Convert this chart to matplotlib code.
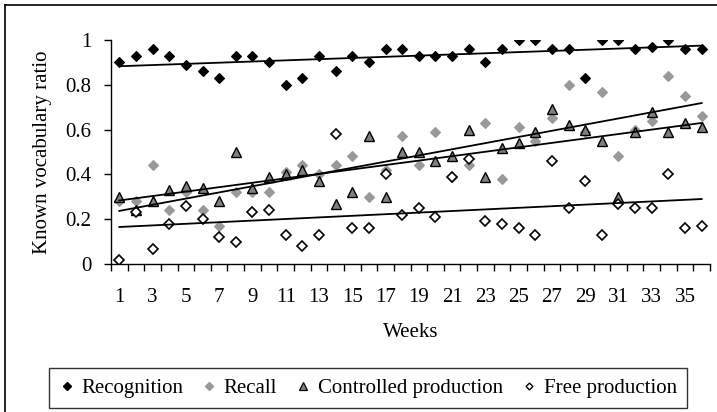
import numpy as np
import matplotlib
matplotlib.use("Agg")
import matplotlib.pyplot as plt
from matplotlib.lines import Line2D

plt.rcParams['font.family'] = ['Liberation Serif', 'DejaVu Serif']

weeks = [1, 2, 3, 4, 5, 6, 7, 8, 9, 10, 11, 12, 13, 14, 15, 16, 17, 18,
         19, 20, 21, 22, 23, 24, 25, 26, 27, 28, 29, 30, 31, 32, 33, 34, 35, 36]

recognition = [0.90, 0.93, 0.96, 0.93, 0.89, 0.86, 0.83, 0.93, 0.93,
               0.90, 0.80, 0.83, 0.93, 0.86, 0.93, 0.90, 0.96, 0.96,
               0.93, 0.93, 0.93, 0.96, 0.90, 0.96, 1.00, 1.00, 0.96,
               0.96, 0.83, 1.00, 1.00, 0.96, 0.97, 1.00, 0.96, 0.96]
recall = [0.28, 0.28, 0.44, 0.24, 0.32, 0.24, 0.17, 0.32, 0.32,
          0.32, 0.41, 0.44, 0.40, 0.44, 0.48, 0.30, 0.42, 0.57,
          0.44, 0.59, 0.39, 0.44, 0.63, 0.38, 0.61, 0.55, 0.65,
          0.80, 0.59, 0.77, 0.48, 0.60, 0.64, 0.84, 0.75, 0.66]
controlled = [0.30, 0.24, 0.28, 0.33, 0.35, 0.34, 0.28, 0.50, 0.34,
              0.39, 0.40, 0.42, 0.37, 0.27, 0.32, 0.57, 0.30, 0.50,
              0.50, 0.46, 0.48, 0.60, 0.39, 0.52, 0.54, 0.59, 0.69,
              0.62, 0.60, 0.55, 0.30, 0.59, 0.68, 0.59, 0.63, 0.61]
free = [0.02, 0.23, 0.065, 0.18, 0.26, 0.20, 0.12, 0.10, 0.23,
        0.24, 0.13, 0.08, 0.13, 0.58, 0.16, 0.16, 0.40, 0.22,
        0.25, 0.21, 0.39, 0.47, 0.19, 0.18, 0.16, 0.13, 0.46,
        0.25, 0.37, 0.13, 0.27, 0.25, 0.25, 0.40, 0.16, 0.17]

series_names = ["Recognition", "Recall", "Controlled production", "Free production"]
yticks = [0, 0.2, 0.4, 0.6, 0.8, 1]
ytick_labels = ["0", "0.2", "0.4", "0.6", "0.8", "1"]

W, H = 717, 412
fig = plt.figure(figsize=(W / 100, H / 100), dpi=100)
ax = fig.add_axes([111 / W, 1 - 264 / H, 599 / W, 224 / H])

x = np.array(weeks, dtype=float)
styles = [
    dict(marker='D', ms=5.0, mfc='black', mec='black', mew=0.8),
    dict(marker='D', ms=5.0, mfc='#999999', mec='#999999', mew=0.8),
    dict(marker='^', ms=7.5, mfc='#808080', mec='black', mew=1.0),
    dict(marker='D', ms=4.6, mfc='white', mec='black', mew=1.2),
]
data = [recognition, recall, controlled, free]
for vals, st in zip(data, styles):
    ax.plot(x, vals, linestyle='none', zorder=3, **st)

for vals in data:
    k, b = np.polyfit(x, np.array(vals), 1)
    xx = np.array([x[0], x[-1]])
    ax.plot(xx, k * xx + b, color='black', lw=1.3, zorder=4)

ax.set_xlim(0.5, 36.5)
ax.set_ylim(0, 1)
ax.set_yticks(yticks)
ax.set_yticklabels(ytick_labels)
ax.set_xticks(x[::2])
ax.set_xticklabels([str(w) for w in weeks[::2]])
ax.set_xticks(np.arange(0.5, 37.0, 1.0), minor=True)
ax.tick_params(axis='x', which='major', length=0, pad=17, labelsize=15)
ax.tick_params(axis='x', which='minor', length=5, width=1, direction='out')
ax.tick_params(axis='y', length=5, width=1, direction='out', pad=9, labelsize=15)
for s in ['top', 'right']:
    ax.spines[s].set_visible(False)
for s in ['left', 'bottom']:
    ax.spines[s].set_linewidth(1.0)
    ax.spines[s].set_color('black')

ax.set_xlabel("Weeks", fontsize=15, labelpad=12)
ax.set_ylabel("Known vocabulary ratio", fontsize=15, labelpad=10)

handles = [
    Line2D([], [], linestyle='none', marker='D', ms=3.8, mfc='black', mec='black'),
    Line2D([], [], linestyle='none', marker='D', ms=3.8, mfc='#999999', mec='#999999'),
    Line2D([], [], linestyle='none', marker='^', ms=6, mfc='#808080', mec='black', mew=0.9),
    Line2D([], [], linestyle='none', marker='D', ms=3.5, mfc='white', mec='black', mew=1.0),
]
leg = fig.legend(handles, series_names, loc='center', ncol=4,
                 bbox_to_anchor=(368 / W, 1 - 388 / H), fontsize=15,
                 frameon=True, fancybox=False, edgecolor='black',
                 handlelength=0.7, handletextpad=0.35, columnspacing=0.9,
                 borderpad=0.5)
leg.get_frame().set_linewidth(1.0)

# outer chart border (left and top)
fig.add_artist(Line2D([5 / W, 5 / W], [0, 1 - 5 / H], transform=fig.transFigure,
                      color='black', lw=1.2))
fig.add_artist(Line2D([5 / W, 1], [1 - 5 / H, 1 - 5 / H], transform=fig.transFigure,
                      color='black', lw=1.2))

fig.savefig("out.png", dpi=100)
